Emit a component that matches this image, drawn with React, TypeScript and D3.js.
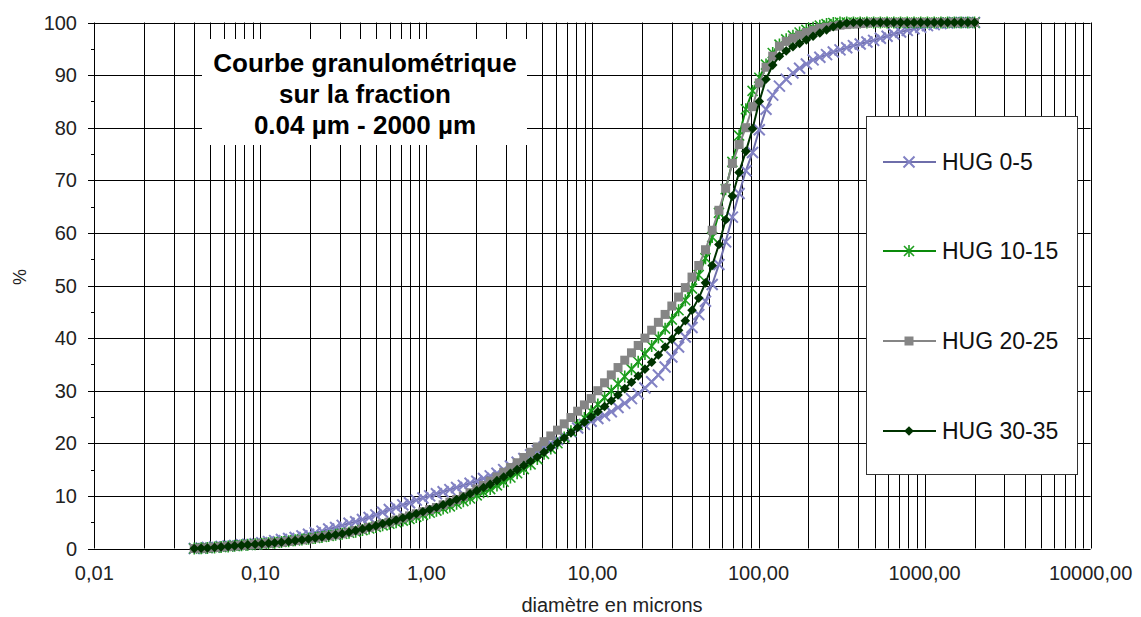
import React from "react";
import * as d3 from "d3";

const sizes = [0.04, 0.044, 0.048, 0.053, 0.058, 0.064, 0.070, 0.077, 0.084, 0.093,
  0.102, 0.112, 0.122, 0.134, 0.148, 0.162, 0.178, 0.195, 0.214, 0.235,
  0.258, 0.284, 0.311, 0.342, 0.375, 0.412, 0.452, 0.496, 0.545, 0.598,
  0.657, 0.721, 0.791, 0.869, 0.953, 1.047, 1.149, 1.261, 1.385, 1.520,
  1.669, 1.832, 2.011, 2.208, 2.423, 2.660, 2.920, 3.206, 3.519, 3.863,
  4.241, 4.656, 5.111, 5.611, 6.159, 6.761, 7.422, 8.148, 8.944, 9.819,
  10.78, 11.83, 12.99, 14.26, 15.65, 17.18, 18.86, 20.71, 22.73, 24.95,
  27.39, 30.07, 33.01, 36.24, 39.78, 43.67, 47.94, 52.62, 57.77, 63.41,
  69.61, 76.42, 83.89, 92.09, 101.1, 111.0, 121.8, 133.7, 146.8, 161.2,
  176.8, 194.2, 213.2, 234.1, 256.9, 282.1, 309.6, 339.9, 373.1, 409.6,
  449.7, 493.6, 541.9, 594.9, 653.0, 716.9, 786.9, 863.9, 948.3, 1041,
  1143, 1255, 1377, 1512, 1660, 1822, 2000];

const hug05 = [0.0, 0.1, 0.2, 0.3, 0.4, 0.5, 0.6, 0.7, 0.8, 0.9,
  1.1, 1.3, 1.5, 1.7, 1.9, 2.1, 2.4, 2.7, 3.0, 3.3,
  3.7, 4.0, 4.4, 4.8, 5.1, 5.5, 5.9, 6.4, 6.9, 7.4,
  7.8, 8.3, 8.7, 9.2, 9.6, 10.0, 10.4, 10.8, 11.2, 11.6,
  12.0, 12.4, 12.8, 13.3, 13.8, 14.3, 15.0, 15.7, 16.4, 17.1,
  17.8, 18.6, 19.3, 20.0, 20.7, 21.4, 22.2, 22.9, 23.6, 24.2,
  24.7, 25.3, 26.0, 26.8, 27.6, 28.5, 29.4, 30.5, 31.7, 33.0,
  34.5, 36.4, 38.3, 40.2, 42.0, 44.5, 47.0, 50.2, 54.0, 58.3,
  63.0, 67.5, 71.8, 75.3, 79.6, 83.5, 86.2, 87.9, 89.2, 90.4,
  91.3, 92.1, 92.9, 93.4, 93.9, 94.4, 94.8, 95.2, 95.6, 95.9,
  96.3, 96.6, 97.0, 97.4, 97.8, 98.2, 98.5, 98.8, 99.1, 99.4,
  99.6, 99.8, 99.9, 100, 100, 100, 100];

const hug1015 = [0.0, 0.05, 0.1, 0.2, 0.3, 0.4, 0.5, 0.6, 0.7, 0.8,
  0.9, 1.0, 1.1, 1.25, 1.4, 1.55, 1.7, 1.85, 2.0, 2.2,
  2.4, 2.6, 2.8, 3.0, 3.2, 3.5, 3.8, 4.1, 4.4, 4.7,
  5.0, 5.3, 5.6, 6.0, 6.4, 6.8, 7.2, 7.6, 8.0, 8.5,
  9.0, 9.5, 10.1, 10.7, 11.3, 12.0, 12.7, 13.5, 14.3, 15.1,
  16.0, 17.0, 18.0, 19.0, 20.0, 21.1, 22.3, 23.5, 24.8, 26.1,
  27.4, 28.7, 30.0, 31.3, 32.7, 34.1, 35.5, 37.0, 38.5, 40.1,
  41.8, 43.5, 45.3, 47.2, 49.4, 52.0, 55.2, 59.2, 63.8, 68.3,
  73.5, 78.5, 83.5, 87.0, 89.5, 92.0, 94.2, 95.8, 96.8, 97.5,
  98.1, 98.6, 99.0, 99.4, 99.7, 99.9, 100, 100, 100, 100,
  100, 100, 100, 100, 100, 100, 100, 100, 100, 100,
  100, 100, 100, 100, 100, 100, 100];

const hug2025 = [0.0, 0.05, 0.1, 0.2, 0.3, 0.4, 0.5, 0.6, 0.7, 0.8,
  0.9, 1.0, 1.1, 1.2, 1.35, 1.5, 1.65, 1.8, 2.0, 2.2,
  2.4, 2.6, 2.8, 3.1, 3.4, 3.7, 4.0, 4.3, 4.7, 5.0,
  5.4, 5.8, 6.2, 6.6, 7.0, 7.4, 7.8, 8.3, 8.8, 9.3,
  9.9, 10.6, 11.3, 12.0, 12.8, 13.6, 14.5, 15.4, 16.3, 17.3,
  18.3, 19.3, 20.3, 21.4, 22.5, 23.7, 24.9, 26.1, 27.3, 28.5,
  30.0, 31.5, 33.0, 34.4, 35.8, 37.2, 38.6, 40.0, 41.5, 43.0,
  44.5, 46.1, 47.8, 49.6, 51.6, 53.8, 56.8, 60.5, 64.3, 68.5,
  73.2, 76.8, 80.0, 84.0, 88.5, 91.5, 93.6, 95.5, 96.4, 97.0,
  97.6, 98.1, 98.5, 98.9, 99.1, 99.3, 99.5, 99.6, 99.7, 99.8,
  99.9, 100, 100, 100, 100, 100, 100, 100, 100, 100,
  100, 100, 100, 100, 100, 100, 100];

const hug3035 = [0.0, 0.05, 0.1, 0.2, 0.3, 0.4, 0.5, 0.6, 0.7, 0.8,
  0.9, 1.0, 1.1, 1.2, 1.35, 1.5, 1.65, 1.8, 2.0, 2.2,
  2.4, 2.6, 2.8, 3.1, 3.4, 3.7, 4.0, 4.3, 4.7, 5.0,
  5.4, 5.8, 6.2, 6.6, 7.0, 7.4, 7.8, 8.3, 8.8, 9.3,
  9.8, 10.4, 11.0, 11.6, 12.2, 12.9, 13.6, 14.3, 15.0, 15.8,
  16.6, 17.4, 18.3, 19.2, 20.1, 21.0, 22.0, 23.0, 24.0, 25.0,
  26.0, 27.0, 28.1, 29.2, 30.4, 31.6, 32.8, 34.1, 35.4, 36.8,
  38.3, 39.8, 41.5, 43.3, 45.3, 47.6, 50.5, 53.8, 57.8, 62.5,
  67.0, 71.5, 75.5, 79.8, 85.0, 89.2, 91.9, 93.6, 94.6, 95.4,
  96.0, 96.7, 97.4, 98.0, 98.6, 99.2, 99.6, 99.9, 100, 100,
  100, 100, 100, 100, 100, 100, 100, 100, 100, 100,
  100, 100, 100, 100, 100, 100, 100];

const seriesNames = ["HUG 0-5", "HUG 10-15", "HUG 20-25", "HUG 30-35"];
const seriesValues = [hug05, hug1015, hug2025, hug3035];
const lineColors = ["#6E6EAA", "#0A8A0A", "#858585", "#003300"];
const markerColors = ["#8282C4", "#1E9E1E", "#858585", "#003300"];
const markerKinds = ["x", "star", "square", "diamond"];

const xTickValues = [0.01, 0.1, 1, 10, 100, 1000, 10000];
const xTickLabels = ["0,01", "0,10", "1,00", "10,00", "100,00", "1000,00", "10000,00"];
const yTickValues = [0, 10, 20, 30, 40, 50, 60, 70, 80, 90, 100];

const FONT = "'Liberation Sans', Arial, sans-serif";

function Marker({ kind, cx, cy, color }: { kind: string; cx: number; cy: number; color: string }) {
  if (kind === "x") {
    const s = 5.5;
    return (
      <path d={`M${cx - s},${cy - s}L${cx + s},${cy + s}M${cx - s},${cy + s}L${cx + s},${cy - s}`}
        stroke={color} strokeWidth={2} fill="none" />
    );
  }
  if (kind === "star") {
    const s = 5;
    return (
      <path d={`M${cx - s},${cy - s}L${cx + s},${cy + s}M${cx - s},${cy + s}L${cx + s},${cy - s}M${cx},${cy - s - 1}L${cx},${cy + s + 1}`}
        stroke={color} strokeWidth={1.6} fill="none" />
    );
  }
  if (kind === "square") {
    const s = 4.5;
    return <rect x={cx - s} y={cy - s} width={2 * s} height={2 * s} fill={color} />;
  }
  const s = 4.8;
  return <path d={`M${cx},${cy - s}L${cx + s},${cy}L${cx},${cy + s}L${cx - s},${cy}Z`} fill={color} />;
}

export default function App() {
  const x = d3.scaleLog().domain([0.01, 10000]).range([94.3, 1090.6]);
  const y = d3.scaleLinear().domain([0, 100]).range([548.5, 22.5]);
  const crisp = (v: number) => Math.round(v) + 0.5;
  const vGrid = x.ticks();
  const line = d3.line<number>()
    .x((_, i) => x(sizes[i]))
    .y((d) => y(d));

  const legendY = [162, 251, 341, 431];

  return (
    <svg width={1141} height={617} style={{ position: "absolute", left: 0, top: 0, background: "#fff" }}
      fontFamily={FONT}>
      <rect x={0} y={0} width={1141} height={617} fill="#fff" />
      {vGrid.map((t, i) => (
        <line key={"v" + i} x1={crisp(x(t))} x2={crisp(x(t))} y1={y(100)} y2={y(0)} stroke="#000" strokeWidth={1} />
      ))}
      {yTickValues.map((t) => (
        <line key={"h" + t} x1={88} x2={x(10000)} y1={crisp(y(t))} y2={crisp(y(t))} stroke="#000" strokeWidth={1} />
      ))}
      {d3.range(5, 100, 10).map((t) => (
        <line key={"m" + t} x1={91} x2={95} y1={crisp(y(t))} y2={crisp(y(t))} stroke="#000" strokeWidth={1} />
      ))}
      {yTickValues.map((t) => (
        <text key={"yl" + t} x={77} y={y(t)} dy="0.35em" textAnchor="end" fontSize={20} fill="#222">{t}</text>
      ))}
      {xTickValues.map((t, i) => (
        <text key={"xl" + t} x={x(t)} y={580} textAnchor="middle" fontSize={20} fill="#222">{xTickLabels[i]}</text>
      ))}
      <text x={612} y={612} textAnchor="middle" fontSize={20} fill="#222">diamètre en microns</text>
      <text transform="translate(26,277) rotate(-90)" textAnchor="middle" fontSize={18} fill="#222">%</text>

      <rect x={202} y={39} width={325} height={106} fill="#fff" />
      <g fontWeight="bold" fontSize={26} textAnchor="middle" fill="#000">
        <text x={365} y={72}>Courbe granulométrique</text>
        <text x={365} y={103}>sur la fraction</text>
        <text x={365} y={134}>0.04 µm - 2000 µm</text>
      </g>

      {seriesValues.map((vals, si) => (
        <g key={"s" + si}>
          <path d={line(vals) || ""} fill="none" stroke={lineColors[si]} strokeWidth={2} />
          {vals.map((v, i) => (
            <Marker key={i} kind={markerKinds[si]} cx={x(sizes[i])} cy={y(v)} color={markerColors[si]} />
          ))}
        </g>
      ))}

      <rect x={866.5} y={116.5} width={211} height={358} fill="#fff" stroke="#333" strokeWidth={1} />
      {seriesNames.map((n, i) => (
        <g key={"lg" + i}>
          <line x1={883} x2={936} y1={legendY[i]} y2={legendY[i]} stroke={lineColors[i]} strokeWidth={2} />
          <Marker kind={markerKinds[i]} cx={909} cy={legendY[i]} color={markerColors[i]} />
          <text x={942} y={legendY[i]} dy="0.35em" fontSize={23} fill="#111">{n}</text>
        </g>
      ))}
    </svg>
  );
}
